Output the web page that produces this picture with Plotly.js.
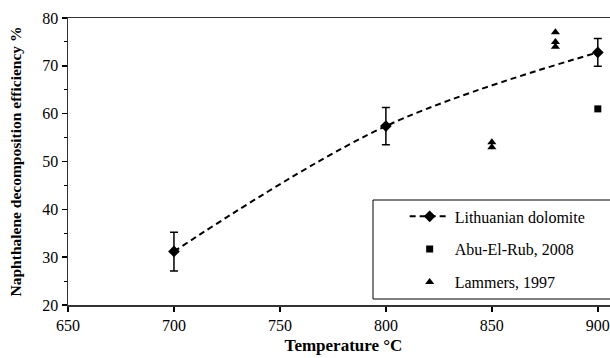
<!DOCTYPE html>
<html>
<head>
<meta charset="utf-8">
<script src="https://cdn.plot.ly/plotly-3.0.1.min.js"></script>
<style>
html,body{margin:0;padding:0;overflow:hidden;background:#fff;width:610px;height:358px}
</style>
</head>
<body>
<div id="chart" style="width:640px;height:358px"></div>
<script>
// Data
const dolomiteT = [700, 800, 900];
const dolomiteEff = [31.2, 57.4, 72.8];
const dolomiteErrPlus = [4.0, 3.9, 2.9];
const dolomiteErrMinus = [4.1, 3.9, 2.9];

const abuT = [900];
const abuEff = [61];

const lammersT = [850, 850, 880, 880, 880];
const lammersEff = [54, 53, 77, 75, 74];

const xTicks = [650, 700, 750, 800, 850, 900];
const yTicks = [20, 30, 40, 50, 60, 70, 80];

const FAM = "'Liberation Serif', 'Times New Roman', serif";
const f = (size) => ({family: FAM, size: size, color: '#000'});

const traces = [
  {
    x: dolomiteT, y: dolomiteEff, name: 'Lithuanian dolomite', legendgroup: 'a',
    type: 'scatter', mode: 'lines+markers',
    line: {color: '#000', width: 2, dash: '6px,4px', shape: 'spline'},
    marker: {symbol: 'diamond', size: 9, color: '#000'},
    error_y: {type: 'data', symmetric: false, array: dolomiteErrPlus, arrayminus: dolomiteErrMinus,
              color: '#000', thickness: 1.5, width: 4}
  },
  {
    x: abuT, y: abuEff, name: 'Abu-El-Rub, 2008', legendgroup: 'b',
    type: 'scatter', mode: 'markers',
    marker: {symbol: 'square', size: 7, color: '#000'}
  },
  {
    x: lammersT, y: lammersEff, name: 'Lammers, 1997', legendgroup: 'c',
    type: 'scatter', mode: 'markers',
    marker: {symbol: 'triangle-up', size: 8, color: '#000'}
  }
];

const layout = {
  width: 640, height: 358,
  margin: {l: 68, r: 21, t: 18, b: 53},
  paper_bgcolor: '#fff', plot_bgcolor: '#fff',
  font: f(16),
  showlegend: true,
  legend: {
    x: 0.611, y: 0.368, xanchor: 'left', yanchor: 'top',
    borderwidth: 0, bgcolor: 'rgba(0,0,0,0)',
    font: f(16),
    itemwidth: 40, tracegroupgap: 9
  },
  shapes: [
    {type: 'rect', xref: 'paper', yref: 'paper', x0: (373 - 68) / 551, x1: 1.02,
     y0: (305 - 299) / 287, y1: (305 - 200) / 287,
     line: {color: '#000', width: 1}, fillcolor: 'rgba(255,255,255,1)', layer: 'below'}
  ],
  xaxis: {
    range: [650, 910], tickvals: xTicks, ticktext: xTicks.map(String),
    showgrid: false, zeroline: false,
    showline: true, linecolor: '#333', linewidth: 1.5, mirror: true,
    ticks: 'outside', ticklen: 5, tickwidth: 1.5, tickcolor: '#000',
    tickfont: f(16),
    title: {text: '<b>Temperature °C</b>', font: f(17), standoff: 6}
  },
  yaxis: {
    range: [20, 80], tickvals: yTicks, ticktext: yTicks.map(String),
    showgrid: false, zeroline: false,
    showline: true, linecolor: '#333', linewidth: 1.5, mirror: true,
    ticks: 'outside', ticklen: 5, tickwidth: 1.5, tickcolor: '#000',
    minor: {dtick: 5, ticks: 'outside', ticklen: 3, tickwidth: 1, tickcolor: '#000', showgrid: false},
    tickfont: f(16),
    title: {text: '<b>Naphthalene decomposition efficiency %</b>', font: f(15.5), standoff: 17}
  }
};

Plotly.newPlot('chart', traces, layout, {displayModeBar: false, staticPlot: true});
</script>
</body>
</html>
